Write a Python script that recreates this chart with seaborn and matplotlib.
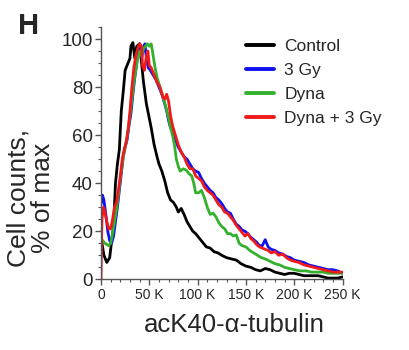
import pandas as pd
import matplotlib
matplotlib.use("Agg")
import matplotlib.pyplot as plt
from matplotlib.ticker import MultipleLocator, FuncFormatter
import seaborn as sns

# Estilo
sns.set_style("ticks")
plt.rcParams['font.family'] = ['Liberation Sans', 'DejaVu Sans']

control_x = [1, 3, 6, 9, 11, 13, 15, 17, 19, 21, 23, 25, 28, 30, 31, 33, 35, 37, 40, 42,
             44, 47, 50, 52, 55, 58, 60, 63, 66, 69, 72, 75, 78, 80, 83, 86, 89, 92, 95, 98,
             101, 105, 109, 113, 117, 121, 125, 130, 135, 140, 145, 150, 155, 160, 165, 170,
             175, 180, 185, 190, 195, 200, 205, 210, 215, 220, 225, 230, 235, 240, 245, 250]
control_y = [15, 10, 7, 9, 16, 22, 40, 48, 54, 70, 78, 87, 90, 92, 97, 98.5, 92, 97, 98, 90,
             82, 73, 67, 63, 56, 51, 48, 45, 41, 36, 33, 32, 30, 28, 29.5, 27, 24, 22, 20, 19,
             17.5, 15.5, 13.5, 13, 11.5, 11, 10, 9, 8.5, 8, 6.5, 5.5, 5, 4, 3.5, 4.5,
             4, 3, 2.5, 2, 2.5, 2.5, 2, 1.5, 1.5, 1.5, 1.5, 1, 0.5, 0.5, 0.5, 1]

gy3_x = [0, 1.5, 3, 5, 7, 9, 11, 13, 15, 17, 19, 21, 23, 25, 27, 29, 31, 33, 35, 37, 39, 40,
         42, 44, 45.5, 47, 49, 51, 54, 57, 60, 63, 66, 68, 70, 72, 74, 76, 78, 80, 83, 86, 89,
         92, 95, 98, 101, 104, 107, 110, 113, 116, 119, 122, 125, 128, 131, 134, 137, 140,
         143, 146, 149, 152, 155, 158, 161, 164, 167, 170, 173, 176, 180, 184, 188, 192, 196,
         200, 205, 210, 215, 220, 225, 230, 235, 240, 245, 250]
gy3_y = [31, 35, 33, 27, 20, 16, 15, 18, 24, 30, 37, 44, 51, 55, 58, 64, 69, 77, 84, 90, 96, 98,
         92, 96, 98, 92, 88, 87, 85, 83, 80, 77, 73, 70, 66, 63, 62, 59, 57, 55, 53, 51, 50,
         48, 46, 45, 44.5, 42, 40, 38.5, 37, 36, 34, 33, 31.5, 29.5, 28, 27.5, 25, 23,
         22, 20.5, 20, 19, 17.5, 16.5, 15.5, 14, 14, 16.5, 13.5, 12.5, 12, 11, 10.5, 9.5, 9,
         8, 7.5, 7, 6, 5.5, 5, 4.5, 4, 4, 3.5, 2.5]

dyna_x = [0, 2, 4, 6, 8, 10, 12, 14, 16, 18, 20, 22, 24, 26, 28, 30, 32, 34, 36, 38, 40, 42,
          44, 46, 48, 50, 52, 54, 56, 58, 61, 64, 67, 70, 72, 74, 76, 78, 80, 82, 85, 88, 91,
          94, 96, 98, 101, 104, 107, 110, 113, 116, 119, 122, 125, 128, 131, 134, 137, 140,
          143, 146, 150, 154, 158, 162, 166, 170, 175, 180, 185, 190, 195, 200, 206, 212, 218,
          225, 230, 235, 240, 245, 250]
dyna_y = [17, 16, 15, 14.5, 14, 15, 19, 24, 29, 35, 42, 48, 53, 57, 62, 68, 75, 82, 87, 92, 95, 93,
          96, 97, 98, 97, 98, 93, 88, 84, 80, 76, 72, 67, 63, 60, 56, 50, 47, 45, 46, 45.5, 44,
          43, 40, 36, 36, 37, 34, 30, 27, 27.5, 26, 23.5, 22, 21, 19, 19, 18, 18.5,
          15, 14, 13.5, 12, 11, 10, 9, 8.5, 7.5, 6.5, 6, 5, 4.5, 4, 3.5, 3.5, 3,
          3, 3, 2.5, 2.5, 2.5, 2.5]

dyna3_x = [0, 0.5, 1, 2.5, 4, 6, 8, 10, 12, 14, 16, 18, 20, 22, 24, 26, 28, 30, 32, 34, 36, 38,
           40, 42, 43, 45, 47, 48.5, 50, 52, 55, 58, 61, 64, 66, 68, 70, 72, 74, 77, 80, 83, 86,
           89, 92, 95, 98, 101, 104, 107, 110, 113, 116, 119, 122, 125, 128, 131, 134, 137, 140,
           143, 146, 149, 152, 155, 158, 161, 164, 167, 170, 173, 176, 180, 184, 188, 192, 196,
           200, 205, 210, 215, 220, 225, 230, 235, 240, 245, 250]
dyna3_y = [0, 15, 25, 30, 28, 24, 21, 21, 25, 30, 32, 37, 43, 50, 54, 57, 62, 70, 80, 88, 93, 96,
           98, 97, 89, 87, 93, 95, 89, 88, 85, 82, 80, 76, 75, 77, 74, 68, 64, 60, 56, 53, 51,
           48, 46, 46, 43, 42, 41, 38.5, 37, 36, 35, 33, 31, 30, 28, 27.5, 26, 24.5, 22.5,
           21, 19.5, 18, 19, 17, 16, 14.5, 13.5, 13, 12.5, 12, 11, 11.5, 10, 10.5, 9, 8,
           7.5, 7, 6, 5.5, 5, 4.5, 4, 3.5, 3, 3, 3]

grupos = ['Control', '3 Gy', 'Dyna', 'Dyna + 3 Gy']
colores = ['#000000', '#1010f0', '#33b02e', '#f01a1a']

# Tabla larga para seaborn
series = [(control_x, control_y), (gy3_x, gy3_y), (dyna_x, dyna_y), (dyna3_x, dyna3_y)]
frames = []
for nombre, (xs, ys) in zip(grupos, series):
    frames.append(pd.DataFrame({'x': xs, 'y': ys, 'grupo': nombre}))
df = pd.concat(frames, ignore_index=True)

fig = plt.figure(figsize=(4.09, 3.5), dpi=100)
ax = fig.add_axes([101 / 409, 1 - 279.3 / 350, 241.5 / 409, 252.3 / 350])

sns.lineplot(data=df, x='x', y='y', hue='grupo', hue_order=grupos,
             palette=dict(zip(grupos, colores)), linewidth=2.0,
             errorbar=None, sort=False, ax=ax)

ax.set_xlim(0, 250)
ax.set_ylim(0, 105)
ax.xaxis.set_major_locator(MultipleLocator(50))
ax.xaxis.set_minor_locator(MultipleLocator(10))
ax.yaxis.set_major_locator(MultipleLocator(20))
ax.yaxis.set_minor_locator(MultipleLocator(5))
ax.xaxis.set_major_formatter(FuncFormatter(lambda v, p: '0' if v == 0 else f'{int(v)} K'))

sns.despine(ax=ax)
for s in ['left', 'bottom']:
    ax.spines[s].set_color('#555555')
    ax.spines[s].set_linewidth(1.0)
ax.tick_params(axis='both', which='major', length=4, width=1, color='#555555', pad=2)
ax.tick_params(axis='both', which='minor', length=2.5, width=0.8, color='#555555')
ax.tick_params(axis='x', labelsize=10)
ax.tick_params(axis='y', labelsize=13.5)

ax.set_xlabel('acK40-α-tubulin', fontsize=18.5)
ax.xaxis.label.set_va('center')
ax.xaxis.set_label_coords((234 - 101) / 241.5, (279.3 - 325) / 252.3)
ax.set_ylabel('Cell counts,\n% of max', fontsize=19, linespacing=1.0)
ax.yaxis.label.set_va('center')
ax.yaxis.set_label_coords((31 - 101) / 241.5, (279.3 - 198) / 252.3)

leg = ax.legend(loc='upper left', bbox_to_anchor=(246 / 409, 1 - 39 / 350),
                bbox_transform=fig.transFigure, frameon=False, fontsize=12.5,
                handlelength=1.6, handletextpad=0.6, labelspacing=0.5,
                borderpad=0, borderaxespad=0)
for h in leg.get_lines():
    h.set_linewidth(2.8)

fig.text(18 / 409, 1 - 12 / 350, 'H', fontsize=21, fontweight='bold', va='top', ha='left')

plt.savefig('out.png', dpi=100)
plt.close()
